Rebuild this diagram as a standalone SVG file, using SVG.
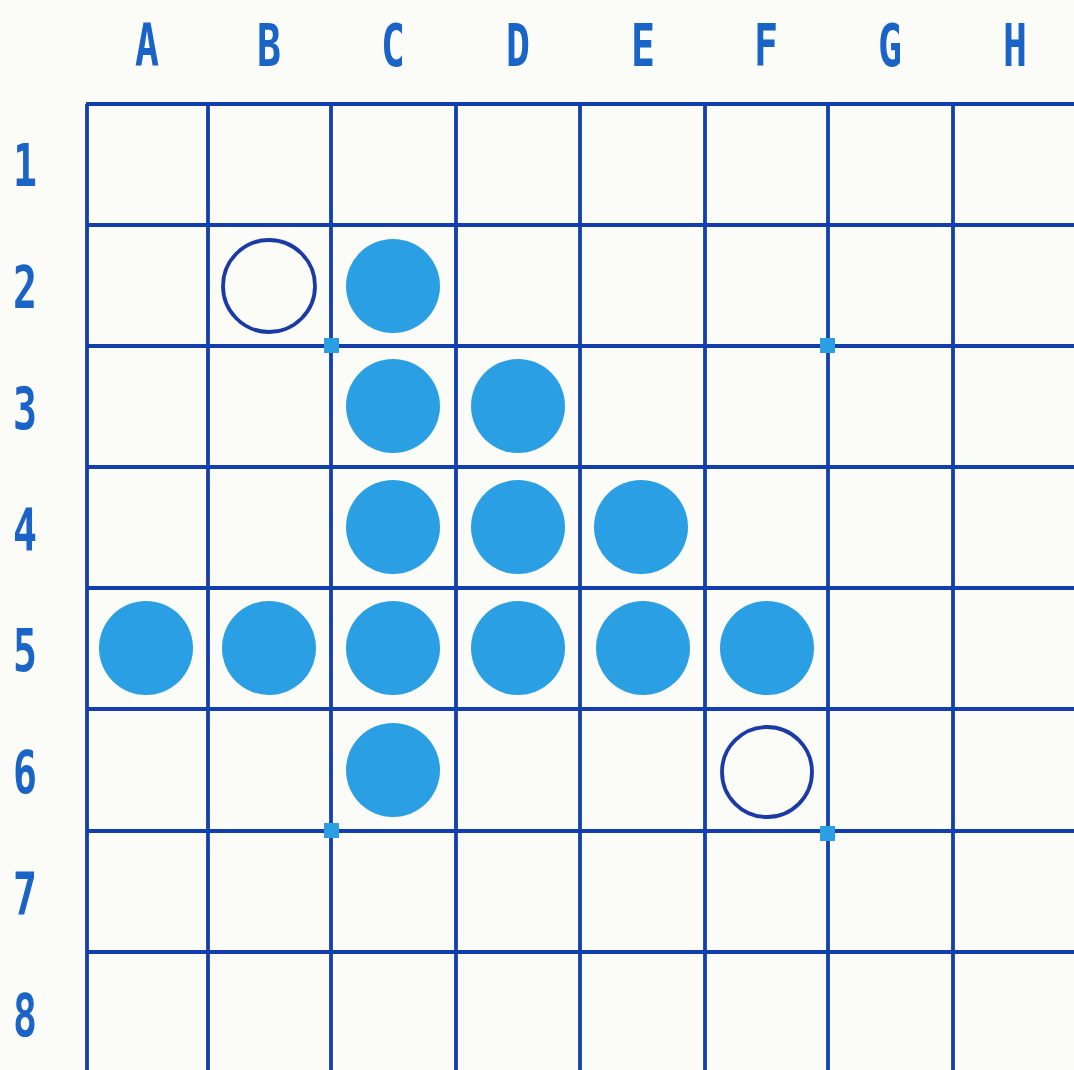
<svg xmlns="http://www.w3.org/2000/svg" width="1074" height="1070" viewBox="0 0 1074 1070">
<style>
.bg{fill:#fbfbf8}
.grid line{stroke:#133fae;stroke-width:3.8}
.lbl{font-family:"DejaVu Sans Mono","Liberation Mono",monospace;font-size:58px;fill:#1a64c8;text-anchor:middle;font-weight:bold}
.disc{fill:#2a9fe4}
.ring{fill:none;stroke:#1a3aa6;stroke-width:3.8}
.star{fill:#2a9fe4}
</style>
<rect class="bg" x="0" y="0" width="1074" height="1070"/>
<g id="labels">
<text class="lbl" x="147" y="66" textLength="24" lengthAdjust="spacingAndGlyphs">A</text>
<text class="lbl" x="269" y="66" textLength="24" lengthAdjust="spacingAndGlyphs">B</text>
<text class="lbl" x="393" y="66" textLength="24" lengthAdjust="spacingAndGlyphs">C</text>
<text class="lbl" x="518" y="66" textLength="24" lengthAdjust="spacingAndGlyphs">D</text>
<text class="lbl" x="643" y="66" textLength="24" lengthAdjust="spacingAndGlyphs">E</text>
<text class="lbl" x="766" y="66" textLength="24" lengthAdjust="spacingAndGlyphs">F</text>
<text class="lbl" x="890" y="66" textLength="24" lengthAdjust="spacingAndGlyphs">G</text>
<text class="lbl" x="1015" y="66" textLength="24" lengthAdjust="spacingAndGlyphs">H</text>
<text class="lbl" x="25" y="186" textLength="24" lengthAdjust="spacingAndGlyphs">1</text>
<text class="lbl" x="25" y="308" textLength="24" lengthAdjust="spacingAndGlyphs">2</text>
<text class="lbl" x="25" y="429" textLength="24" lengthAdjust="spacingAndGlyphs">3</text>
<text class="lbl" x="25" y="550" textLength="24" lengthAdjust="spacingAndGlyphs">4</text>
<text class="lbl" x="25" y="671" textLength="24" lengthAdjust="spacingAndGlyphs">5</text>
<text class="lbl" x="25" y="793" textLength="24" lengthAdjust="spacingAndGlyphs">6</text>
<text class="lbl" x="25" y="914" textLength="24" lengthAdjust="spacingAndGlyphs">7</text>
<text class="lbl" x="25" y="1036" textLength="24" lengthAdjust="spacingAndGlyphs">8</text>
</g>
<g id="grid" class="grid">
<line x1="86" y1="104" x2="1074" y2="104"/>
<line x1="86" y1="225" x2="1074" y2="225"/>
<line x1="86" y1="346" x2="1074" y2="346"/>
<line x1="86" y1="467" x2="1074" y2="467"/>
<line x1="86" y1="588" x2="1074" y2="588"/>
<line x1="86" y1="709" x2="1074" y2="709"/>
<line x1="86" y1="831" x2="1074" y2="831"/>
<line x1="86" y1="952" x2="1074" y2="952"/>
<line x1="87" y1="104" x2="87" y2="1070"/>
<line x1="208" y1="104" x2="208" y2="1070"/>
<line x1="331" y1="104" x2="331" y2="1070"/>
<line x1="456" y1="104" x2="456" y2="1070"/>
<line x1="580" y1="104" x2="580" y2="1070"/>
<line x1="705" y1="104" x2="705" y2="1070"/>
<line x1="828" y1="104" x2="828" y2="1070"/>
<line x1="953" y1="104" x2="953" y2="1070"/>
</g>
<g id="stars">
<rect class="star" x="324" y="338" width="15" height="15"/>
<rect class="star" x="820" y="338" width="15" height="15"/>
<rect class="star" x="324" y="823" width="15" height="15"/>
<rect class="star" x="820" y="826" width="15" height="15"/>
</g>
<g id="discs">
<circle id="B2" class="ring" cx="269" cy="286" r="46"/>
<circle id="C2" class="disc" cx="393" cy="286" r="47"/>
<circle id="C3" class="disc" cx="393" cy="406" r="47"/>
<circle id="D3" class="disc" cx="518" cy="406" r="47"/>
<circle id="C4" class="disc" cx="393" cy="527" r="47"/>
<circle id="D4" class="disc" cx="518" cy="527" r="47"/>
<circle id="E4" class="disc" cx="641" cy="527" r="47"/>
<circle id="A5" class="disc" cx="146" cy="648" r="47"/>
<circle id="B5" class="disc" cx="269" cy="648" r="47"/>
<circle id="C5" class="disc" cx="393" cy="648" r="47"/>
<circle id="D5" class="disc" cx="518" cy="648" r="47"/>
<circle id="E5" class="disc" cx="643" cy="648" r="47"/>
<circle id="F5" class="disc" cx="767" cy="648" r="47"/>
<circle id="C6" class="disc" cx="393" cy="770" r="47"/>
<circle id="F6" class="ring" cx="767" cy="772" r="45"/>
</g>
</svg>
